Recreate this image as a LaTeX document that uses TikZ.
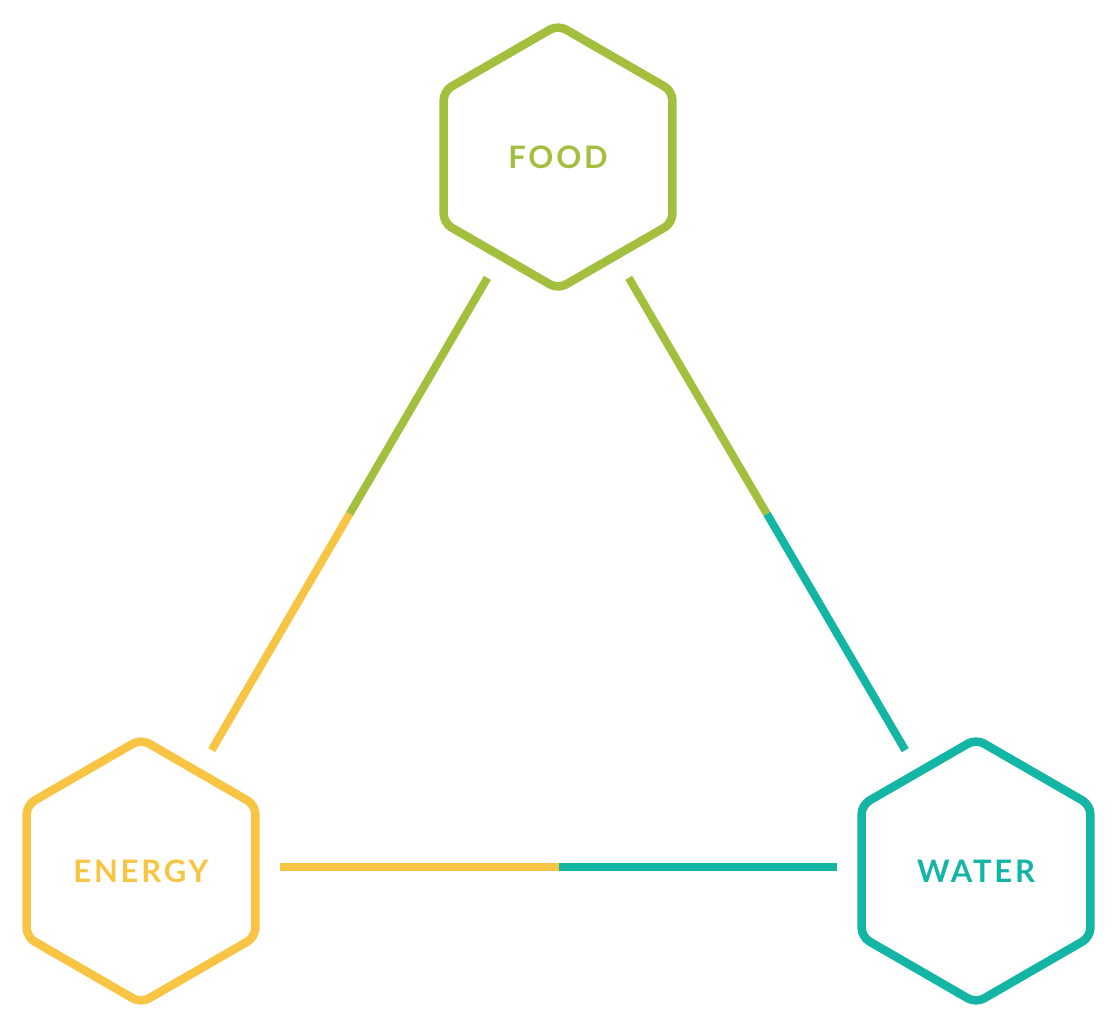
\documentclass[tikz,border=0pt]{standalone}
\usepackage{fontspec}
\setmainfont{Lato}
\usetikzlibrary{shapes.geometric,calc}
\definecolor{foodgreen}{RGB}{163,191,62}
\definecolor{energyyellow}{RGB}{248,196,67}
\definecolor{waterteal}{RGB}{19,181,165}
\begin{document}
\begin{tikzpicture}[x=1pt,y=-1pt,
  hexbox/.style={regular polygon, regular polygon sides=6, shape border rotate=30,
    minimum size=264pt, inner sep=0pt, line width=8.5pt, rounded corners=9pt, draw=#1,
    text=#1, font=\fontsize{31}{33}\selectfont\bfseries\addfontfeature{LetterSpace=9}},
  link/.style={line width=8pt, line cap=butt, draw=#1}]
\useasboundingbox (0,0) rectangle (1117,1029);
\node[hexbox=foodgreen] (food) at (558,157) {FOOD};
\node[hexbox=energyyellow] (energy) at (141,871) {ENERGY};
\node[hexbox=waterteal] (water) at (976,871) {WATER};
% connector end points
\coordinate (fe1) at ($(food.center)!140pt!(energy.center)$);
\coordinate (fe2) at ($(energy.center)!140pt!(food.center)$);
\coordinate (fem) at ($(fe1)!0.5!(fe2)$);
\coordinate (fw1) at ($(food.center)!140pt!(water.center)$);
\coordinate (fw2) at ($(water.center)!140pt!(food.center)$);
\coordinate (fwm) at ($(fw1)!0.5!(fw2)$);
\coordinate (ew1) at ($(energy.center)!139pt!(water.center)+(0,-4)$);
\coordinate (ew2) at ($(water.center)!139pt!(energy.center)+(0,-4)$);
\coordinate (ewm) at ($(ew1)!0.5!(ew2)$);
\draw[link=foodgreen] (fe1) -- (fem);
\draw[link=energyyellow] (fem) -- (fe2);
\draw[link=foodgreen] (fw1) -- (fwm);
\draw[link=waterteal] (fwm) -- (fw2);
\draw[link=energyyellow] (ew1) -- (ewm);
\draw[link=waterteal] (ewm) -- (ew2);
\end{tikzpicture}
\end{document}
